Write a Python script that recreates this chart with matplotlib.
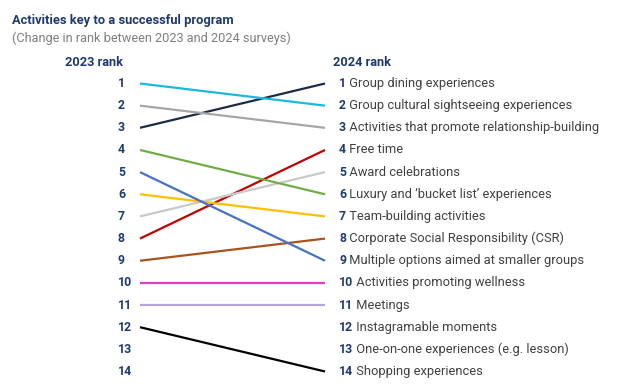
import matplotlib.pyplot as plt

# 2024 ranking (position in list = 2024 rank) with the 2023 rank of each item
labels_2024 = [
    "Group dining experiences",
    "Group cultural sightseeing experiences",
    "Activities that promote relationship-building",
    "Free time",
    "Award celebrations",
    "Luxury and \u2018bucket list\u2019 experiences",
    "Team-building activities",
    "Corporate Social Responsibility (CSR)",
    "Multiple options aimed at smaller groups",
    "Activities promoting wellness",
    "Meetings",
    "Instagramable moments",
    "One-on-one experiences (e.g. lesson)",
    "Shopping experiences",
]
rank_2024 = list(range(1, 15))
rank_2023 = [3, 1, 2, 8, 7, 4, 6, 9, 5, 10, 11, None, None, 12]
left_ranks = list(range(1, 15))
colors = ["#1C2B45", "#1BB8E0", "#A6A6A6", "#C00000", "#C9C9C9", "#70AD47",
          "#FFC000", "#A8541C", "#4472C4", "#DD3FCC", "#B4A7D6", None, None, "#000000"]

navy = "#1F3A6E"
plt.rcParams["font.family"] = ["Roboto", "DejaVu Sans"]

fig = plt.figure(figsize=(6.24, 3.9), dpi=100)
fig.text(12 / 624, 1 - 24 / 390, "Activities key to a successful program",
         fontsize=9.3, fontweight="bold", color=navy, va="baseline")
fig.text(12 / 624, 1 - 42 / 390, "(Change in rank between 2023 and 2024 surveys)",
         fontsize=9.2, color="#7F7F7F", va="baseline")

ax = fig.add_axes([140 / 624, (390 - 371.5) / 390, 185 / 624, 288 / 390])
ax.set_xlim(0, 1)
ax.set_ylim(14, 1)
ax.axis("off")

for r24, r23, c in zip(rank_2024, rank_2023, colors):
    if r23 is None:
        continue
    ax.plot([0, 1], [r23, r24], color=c, lw=1.6, solid_capstyle="butt", clip_on=False)

for r in left_ranks:
    ax.annotate(str(r), (0, r), xytext=(-22, 0), textcoords="offset pixels",
                ha="left", va="center", fontsize=8.8, fontweight="bold", color=navy)

for r, lab in zip(rank_2024, labels_2024):
    t = ax.annotate(str(r), (1, r), xytext=(14, 0), textcoords="offset pixels",
                    ha="left", va="center", fontsize=8.8, fontweight="bold", color=navy)
    ax.annotate(" " + lab, xycoords=t, xy=(1, 0.5), ha="left", va="center",
                fontsize=9.3, color="#404040")

ax.annotate("2023 rank", (0, 1), xytext=(-75, 21), textcoords="offset pixels",
            ha="left", va="center", fontsize=9.2, fontweight="bold", color=navy)
ax.annotate("2024 rank", (1, 1), xytext=(8, 21), textcoords="offset pixels",
            ha="left", va="center", fontsize=9.2, fontweight="bold", color=navy)

fig.savefig("out.png", dpi=100)
